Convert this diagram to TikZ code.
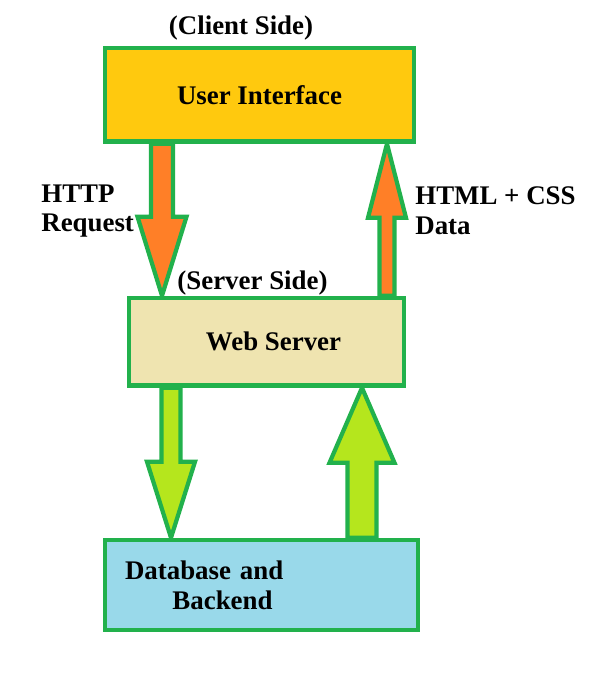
\documentclass[tikz,border=0pt]{standalone}
\usepackage{fontspec}
\setmainfont{Liberation Serif}
\usepackage{tikz}
\usetikzlibrary{calc}
\definecolor{paintgreen}{HTML}{22B14C}
\definecolor{uiyellow}{HTML}{FFC90E}
\definecolor{srvbeige}{HTML}{EFE4B0}
\definecolor{dbblue}{HTML}{99D9EA}
\definecolor{reqorange}{HTML}{FF7F27}
\definecolor{dblime}{HTML}{B5E61D}
% #1 fill, #2 tail, #3 tip, #4 shaft half width, #5 head half width, #6 signed head length
\newcommand{\fatarrow}[6]{%
  \draw[fat, fill=#1] ($(#2)+(-#4,0)$) -- ($(#3)+(-#4,#6)$) -- ($(#3)+(-#5,#6)$)
    -- (#3) -- ($(#3)+(#5,#6)$) -- ($(#3)+(#4,#6)$) -- ($(#2)+(#4,0)$) -- cycle;}

\begin{document}
\begin{tikzpicture}[
  x=0.02cm, y=-0.02cm,
  font=\fontsize{15.3}{17}\selectfont\bfseries,
  box/.style={draw=paintgreen, line width=2.6pt, inner sep=0pt},
  fat/.style={draw=paintgreen, line width=2.4pt, line join=miter, miter limit=2},
  lbl/.style={inner sep=0pt, align=left}
]
\useasboundingbox (0,0) rectangle (595,691);

% ===== boxes =====
\node[box, fill=uiyellow, minimum width=6.18cm, minimum height=1.87cm] (ui) at (259.5,94.75) {User Interface};
\node[box, fill=srvbeige, minimum width=5.5cm, minimum height=1.75cm] (ws) at (266.5,341.75) {\hspace*{8pt}Web Server};
\node[box, fill=dbblue, text width=5.46cm, inner xsep=0.4cm, minimum height=1.8cm, align=left] (db) at (261.5,585)
     {Database and\\\hspace*{27pt}Backend};

% ===== arrows =====
\coordinate (reqtail) at (162,0 |- ui.south);
\coordinate (reqtip)  at (162,0 |- ws.north);
\fatarrow{reqorange}{reqtail}{reqtip}{11}{24.5}{-79}
\coordinate (htmltail) at (387,0 |- ws.north);
\coordinate (htmltip)  at (387,0 |- ui.south);
\fatarrow{reqorange}{htmltail}{htmltip}{7.5}{19}{74}
\coordinate (qrytail) at (171,0 |- ws.south);
\coordinate (qrytip)  at (171,0 |- db.north);
\fatarrow{dblime}{qrytail}{qrytip}{9.5}{24}{-76}
\coordinate (restail) at (362,0 |- db.north);
\coordinate (restip)  at (362,0 |- ws.south);
\fatarrow{dblime}{restail}{restip}{14.5}{32.5}{75}

% ===== labels =====
\node[lbl] (client) at (241,28) {(Client Side)};
\node[lbl] (server) at (252.5,283) {(Server Side)};
\node[lbl, anchor=west] (httpreq) at (41,211) {HTTP\\Request};
\node[lbl, anchor=west] (htmlcss) at (415,211) {HTML + CSS\\Data};
\end{tikzpicture}
\end{document}
